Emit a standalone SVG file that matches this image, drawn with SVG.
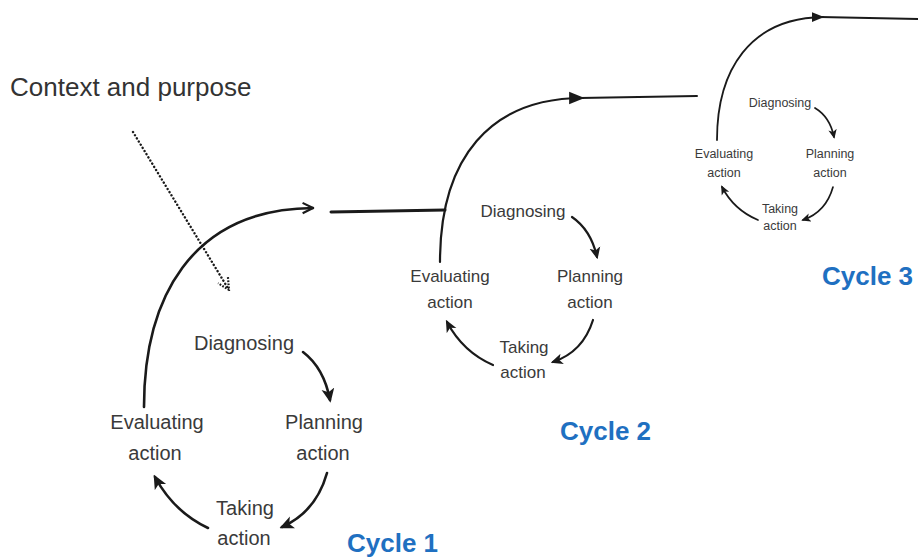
<svg xmlns="http://www.w3.org/2000/svg" width="918" height="558" viewBox="0 0 918 558">
<style>
.t{font-family:"Liberation Sans",Arial,sans-serif;fill:#3a3a3a;text-anchor:middle}
.t1{font-size:20px}
.t2{font-size:17px}
.t3{font-size:12.5px}
.cy{font-family:"Liberation Sans",Arial,sans-serif;font-weight:bold;font-size:26px;fill:#1f70c1}
.ln{fill:none;stroke:#1a1a1a;stroke-linecap:round}
</style>
<defs>
<marker id="ah" viewBox="0 0 10 10" refX="8" refY="5" markerWidth="5.5" markerHeight="5.5" orient="auto" markerUnits="strokeWidth">
<path d="M0,0.5 L10,5 L0,9.5 L2.5,5 z" fill="#1a1a1a"/>
</marker>
<marker id="ahf" viewBox="0 0 10 10" refX="9" refY="5" markerWidth="7" markerHeight="7" orient="auto" markerUnits="strokeWidth">
<path d="M0,1 L10,5 L0,9 z" fill="#1a1a1a"/>
</marker>
<marker id="chev" viewBox="0 0 10 10" refX="9" refY="5" markerWidth="5" markerHeight="5" orient="auto" markerUnits="strokeWidth">
<path d="M1,1 L9,5 L1,9" fill="none" stroke="#1a1a1a" stroke-width="1.6"/>
</marker>
<marker id="chevd" viewBox="0 0 10 10" refX="9" refY="5" markerWidth="6" markerHeight="6" orient="auto" markerUnits="strokeWidth">
<path d="M1,1 L9,5 L1,9" fill="none" stroke="#1a1a1a" stroke-width="1.5" stroke-dasharray="1.2 1"/>
</marker>
</defs>
<rect width="918" height="558" fill="#ffffff"/>

<g id="context">
<text x="10" y="96" font-family="'Liberation Sans',Arial,sans-serif" font-size="26" fill="#333">Context and purpose</text>
</g>

<g id="connectors">
<!-- context dotted arrow -->
<path class="ln" d="M133,132 L229,290" stroke-width="2.4" stroke-dasharray="0.1 3.6" marker-end="url(#chevd)"/>
<!-- cycle 1 main curve -->
<path class="ln" d="M144,407 C144,300 190,209 313,208" stroke-width="2.6" marker-end="url(#chev)"/>
<path class="ln" d="M331,212 L445,210" stroke-width="3"/>
<!-- cycle 2 main curve -->
<path class="ln" d="M440,262 C440,158 490,98 583,98" stroke-width="2.2" marker-end="url(#ahf)"/>
<path class="ln" d="M580,98 L697,96" stroke-width="2"/>
<!-- cycle 3 main curve -->
<path class="ln" d="M717,140 C717,70 750,18 823,17" stroke-width="1.8" marker-end="url(#ahf)"/>
<path class="ln" d="M820,17 L918,19" stroke-width="1.8"/>

<!-- cycle 1 small arrows -->
<path class="ln" d="M303,352 Q324,368 330,400" stroke-width="2.6" marker-end="url(#ah)"/>
<path class="ln" d="M327,473 Q316,512 282,527" stroke-width="2.6" marker-end="url(#ah)"/>
<path class="ln" d="M208,528 Q174,512 155,477" stroke-width="2.6" marker-end="url(#ah)"/>
<!-- cycle 2 small arrows -->
<path class="ln" d="M572,217 Q591,230 597,257" stroke-width="2.2" marker-end="url(#ah)"/>
<path class="ln" d="M593,320 Q583,352 553,362" stroke-width="2.2" marker-end="url(#ah)"/>
<path class="ln" d="M493,365 Q463,352 447,322" stroke-width="2.2" marker-end="url(#ah)"/>
<!-- cycle 3 small arrows -->
<path class="ln" d="M815,108 Q830,117 834,137" stroke-width="1.7" marker-end="url(#ah)"/>
<path class="ln" d="M833,187 Q826,212 803,220" stroke-width="1.7" marker-end="url(#ah)"/>
<path class="ln" d="M758,220 Q734,210 722,187" stroke-width="1.7" marker-end="url(#ah)"/>
</g>

<g id="cycle1">
<text class="t t1" x="244" y="350">Diagnosing</text>
<text class="t t1" x="324" y="429">Planning</text>
<text class="t t1" x="323" y="460">action</text>
<text class="t t1" x="157" y="429">Evaluating</text>
<text class="t t1" x="155" y="460">action</text>
<text class="t t1" x="245" y="515">Taking</text>
<text class="t t1" x="244" y="545">action</text>
<text class="cy" x="347" y="552">Cycle 1</text>
</g>

<g id="cycle2">
<text class="t t2" x="523" y="217">Diagnosing</text>
<text class="t t2" x="590" y="282">Planning</text>
<text class="t t2" x="590" y="308">action</text>
<text class="t t2" x="450" y="282">Evaluating</text>
<text class="t t2" x="450" y="308">action</text>
<text class="t t2" x="524" y="353">Taking</text>
<text class="t t2" x="523" y="378">action</text>
<text class="cy" x="560" y="440">Cycle 2</text>
</g>

<g id="cycle3">
<text class="t t3" x="780" y="107">Diagnosing</text>
<text class="t t3" x="830" y="158">Planning</text>
<text class="t t3" x="830" y="177">action</text>
<text class="t t3" x="724" y="158">Evaluating</text>
<text class="t t3" x="724" y="177">action</text>
<text class="t t3" x="780" y="213">Taking</text>
<text class="t t3" x="780" y="230">action</text>
<text class="cy" x="822" y="285">Cycle 3</text>
</g>
</svg>
